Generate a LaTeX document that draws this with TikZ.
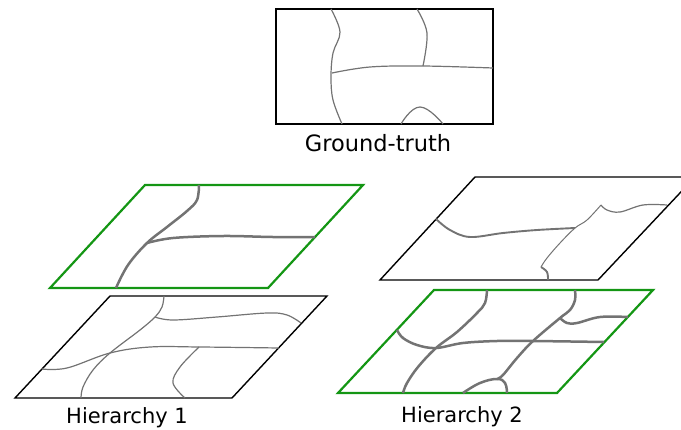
\documentclass[tikz,border=0pt]{standalone}
\usepackage{fontspec}
\setmainfont{DejaVu Sans}
\usepackage{tikz}
\usetikzlibrary{calc}

\begin{document}
\begin{tikzpicture}[x=1pt, y=-1pt, outer sep=0pt]
          \newcommand{\labelsize}{\fontsize{21}{25}\selectfont}
          \newcommand{\gtsize}{\fontsize{22.5}{26}\selectfont}
          \definecolor{framegreen}{RGB}{20,150,20}
          \definecolor{cutgray}{RGB}{115,115,115}

          \tikzstyle{frame}=[draw=black, line width=1.4pt]
          \tikzstyle{gframe}=[draw=framegreen, line width=2.2pt]
          \tikzstyle{cut}=[draw=cutgray, line width=1.2pt]
          \tikzstyle{cutthick}=[draw=cutgray, line width=2.5pt]
          \tikzstyle{caption}=[font=\labelsize, inner sep=0pt, anchor=base]

          \useasboundingbox (0,0) rectangle (681,429);

          % ground truth
          \draw[frame] (276,9) rectangle (493,124);
          \draw[cut] plot[smooth, tension=0.6] coordinates {(331,9) (340,32) (333,53) (331,77) (333,100) (342,124)};
          \draw[cut] plot[smooth, tension=0.6] coordinates {(332,73) (370,67) (423,66) (493,68)};
          \draw[cut] plot[smooth, tension=0.6] coordinates {(417,9) (427,33) (423,66)};
          \draw[cut] plot[smooth, tension=0.8] coordinates {(401,124) (420,107) (443,124)};
          \node[caption, font=\gtsize] (gtlabel) at (378,151) {Ground-truth};

          % hierarchy 1, upper layer
          \draw[gframe] (50,288) -- (145,185) -- (363,185) -- (268,288) -- cycle;
          \draw[cutthick] plot[smooth, tension=0.6] coordinates {(199,185) (197,200) (187,211) (167,227) (147,243) (128,265) (116,288)};
          \draw[cutthick] plot[smooth, tension=0.6] coordinates {(147,243) (173,238) (223,236) (273,237) (315,237)};

          % hierarchy 1, lower layer
          \draw[frame] (15,398) -- (110,296) -- (327,296) -- (232,398) -- cycle;
          \draw[cut] plot[smooth, tension=0.6] coordinates {(164,296) (162,307) (155,317) (140,330) (110,353) (93,370) (83,387) (81,398)};
          \draw[cut] plot[smooth, tension=0.6] coordinates {(155,317) (173,320) (217,317) (267,313) (287,315) (301,323)};
          \draw[cut] plot[smooth, tension=0.6] coordinates {(42,369) (67,368) (110,353) (150,347) (200,347) (279,348)};
          \draw[cut] plot[smooth, tension=0.6] coordinates {(199,347) (180,367) (173,383) (185,398)};
          \node[caption] (hoalabel) at (127,423) {Hierarchy 1};

          % hierarchy 2, upper layer
          \draw[frame] (380,280) -- (475,177) -- (695,177) -- (598,280) -- cycle;
          \draw[cutthick, line width=1.9pt] plot[smooth, tension=0.6] coordinates {(436,219) (450,230) (470,237) (503,233) (537,230) (575,228)};
          \draw[cut, line width=1pt] plot[smooth, tension=0.6] coordinates {(601,205) (587,220) (575,228) (560,243) (547,258) (541,267)};
          \draw[cutthick, line width=1.9pt] plot[smooth, tension=0.6] coordinates {(541,267) (547,272) (548,280)};
          \draw[cut] plot[smooth, tension=0.6] coordinates {(601,205) (607,210) (620,212) (643,205) (667,205)};

          % hierarchy 2, lower layer
          \draw[gframe] (338,393) -- (434,290) -- (653,290) -- (557,393) -- cycle;
          \draw[cutthick] plot[smooth, tension=0.6] coordinates {(487,290) (485,303) (477,313) (457,332) (436,348) (418,367) (407,383) (403,393)};
          \draw[cutthick] plot[smooth, tension=0.6] coordinates {(397,330) (403,338) (417,345) (436,348) (463,343) (497,341) (533,341) (604,342)};
          \draw[cutthick] plot[smooth, tension=0.6] coordinates {(575,290) (575,300) (570,310) (560,318) (533,341) (517,358) (503,375) (497,379)};
          \draw[cutthick] plot[smooth, tension=0.7] coordinates {(463,393) (480,383) (497,379) (505,383) (507,393)};
          \draw[cutthick] plot[smooth, tension=0.6] coordinates {(560,318) (567,323) (577,323) (600,317) (628,317)};
          \node[caption] (htwlabel) at (462,422) {Hierarchy 2};
\end{tikzpicture}
\end{document}
